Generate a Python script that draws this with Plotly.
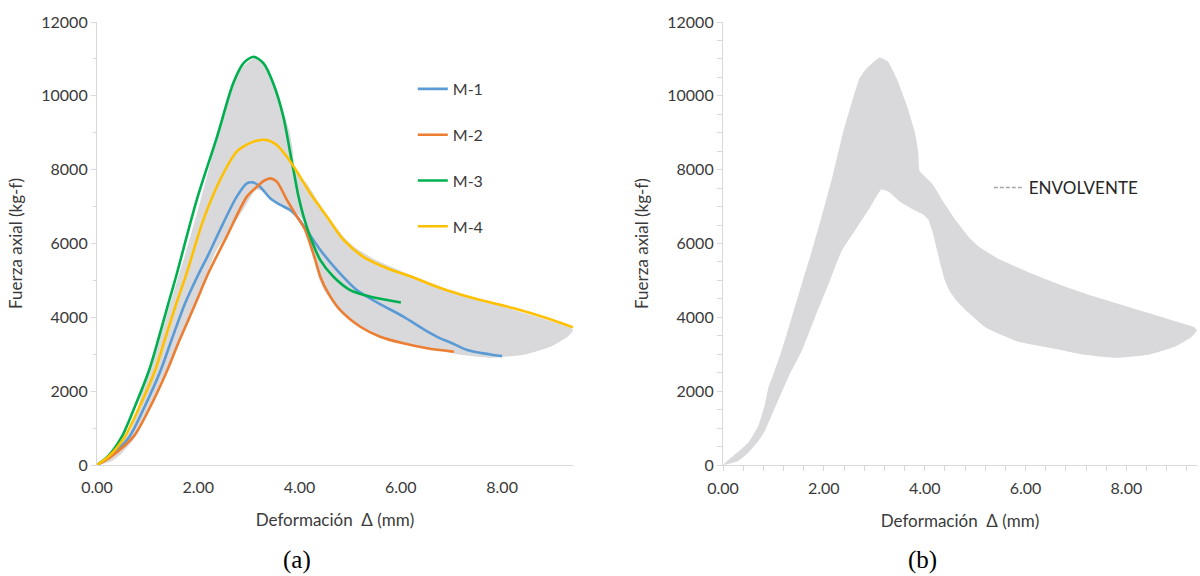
import plotly.graph_objects as go

# ---------------- data ----------------
m1_x = [0, 0.25, 0.64, 0.91, 1.26, 1.47, 1.74, 1.98, 2.2, 2.43, 2.76, 2.96, 3.09, 3.22, 3.42, 3.62, 3.81, 3.95, 4.14, 4.41, 4.74, 5.13, 5.59, 6.05, 6.52, 6.78, 6.98, 7.31, 7.6, 7.83, 8.0]
m1_y = [0, 230, 767, 1490, 2573, 3380, 4380, 5100, 5700, 6370, 7270, 7630, 7650, 7540, 7225, 7045, 6910, 6730, 6365, 5825, 5280, 4740, 4360, 4020, 3620, 3430, 3320, 3115, 3030, 2980, 2950]

m2_x = [0, 0.25, 0.72, 1.02, 1.39, 1.62, 1.96, 2.2, 2.56, 2.96, 3.16, 3.3, 3.42, 3.55, 3.75, 3.95, 4.1, 4.3, 4.41, 4.57, 4.8, 5.2, 5.59, 6.05, 6.52, 7.05]
m2_y = [0, 200, 767, 1490, 2573, 3350, 4420, 5200, 6185, 7270, 7540, 7700, 7765, 7675, 7180, 6725, 6400, 5600, 5100, 4650, 4200, 3745, 3475, 3295, 3160, 3070]

m3_x = [0, 0.22, 0.49, 0.72, 1.03, 1.21, 1.41, 1.56, 1.97, 2.37, 2.69, 2.89, 3.09, 3.29, 3.48, 3.68, 3.81, 3.88, 3.98, 4.08, 4.21, 4.41, 4.67, 5.0, 5.4, 5.73, 6.0]
m3_y = [0, 240, 767, 1490, 2573, 3400, 4380, 5100, 7180, 8890, 10340, 10880, 11060, 10880, 10340, 9435, 8500, 7990, 7270, 6730, 6185, 5550, 5100, 4740, 4560, 4470, 4400]

m4_x = [0, 0.23, 0.55, 0.81, 1.15, 1.34, 1.56, 1.76, 2.1, 2.43, 2.76, 3.09, 3.35, 3.55, 3.75, 3.95, 4.21, 4.54, 4.87, 5.26, 5.73, 6.25, 6.71, 7.1, 7.57, 8.23, 8.89, 9.4]
m4_y = [0, 230, 767, 1490, 2573, 3400, 4350, 5150, 6640, 7720, 8490, 8760, 8805, 8670, 8350, 7945, 7360, 6730, 6095, 5640, 5330, 5080, 4830, 4650, 4470, 4245, 3975, 3730]

env_up_x = [0, 0.24, 0.5, 0.7, 0.83, 0.9, 1.0, 1.16, 1.36, 1.56, 1.76, 1.96, 2.18, 2.38, 2.58, 2.71, 2.85, 3.11, 3.27, 3.44, 3.64, 3.8, 3.87, 3.9, 4.0, 4.16, 4.36, 4.63, 4.89, 5.09, 5.49, 6.01, 6.67, 7.33, 7.99, 8.65, 9.18, 9.36]
env_up_y = [0, 290, 605, 1055, 1640, 2090, 2455, 3085, 3985, 4890, 5790, 6750, 7865, 9000, 9940, 10480, 10750, 11040, 10930, 10480, 9760, 9040, 8500, 7955, 7820, 7595, 7145, 6600, 6150, 5900, 5565, 5250, 4890, 4575, 4300, 4030, 3805, 3720]

env_lo_x = [0, 0.3, 0.5, 0.7, 0.83, 1.03, 1.29, 1.56, 1.82, 2.09, 2.35, 2.65, 2.91, 3.14, 3.27, 3.5, 3.77, 3.97, 4.07, 4.16, 4.3, 4.4, 4.5, 4.65, 4.83, 5.22, 5.82, 6.48, 7.13, 7.8, 8.46, 8.98, 9.31, 9.4]
env_lo_y = [0, 108, 333, 650, 920, 1550, 2360, 3085, 3985, 4890, 5790, 6420, 6960, 7460, 7415, 7145, 6920, 6785, 6650, 6300, 5500, 5000, 4700, 4420, 4170, 3715, 3355, 3175, 2995, 2905, 2995, 3220, 3490, 3640]

y_ticks = [0, 2000, 4000, 6000, 8000, 10000, 12000]
y_tick_text = ["0", "2000", "4000", "6000", "8000", "10000", "12000"]
x_ticks = [0, 2, 4, 6, 8]
x_tick_text = ["0.00", "2.00", "4.00", "6.00", "8.00"]

series = [
    ("M-1", m1_x, m1_y, "#5B9BD5"),
    ("M-2", m2_x, m2_y, "#ED7D31"),
    ("M-3", m3_x, m3_y, "#00B050"),
    ("M-4", m4_x, m4_y, "#FFC000"),
]

FILL = "#d9d8da"
FONT = "Lato"
TXT = "#3a3a3a"

poly_x = env_up_x + env_lo_x[::-1]
poly_y = env_up_y + env_lo_y[::-1]

fig = go.Figure()

# left panel envelope fill
fig.add_trace(go.Scatter(x=poly_x, y=poly_y, fill="toself", fillcolor=FILL,
                         line=dict(width=0, shape="spline", smoothing=0.4),
                         mode="lines", showlegend=False, hoverinfo="skip",
                         xaxis="x", yaxis="y"))
for name, xs, ys, col in series:
    fig.add_trace(go.Scatter(x=xs, y=ys, name=name, mode="lines",
                             line=dict(color=col, width=2.6, shape="spline", smoothing=0.8),
                             legendgroup=name, xaxis="x", yaxis="y", legend="legend"))

# right panel envelope
fig.add_trace(go.Scatter(x=poly_x, y=poly_y, fill="toself", fillcolor=FILL,
                         line=dict(width=0, shape="spline", smoothing=0.4),
                         mode="lines", showlegend=False, hoverinfo="skip",
                         xaxis="x2", yaxis="y2"))
fig.add_trace(go.Scatter(x=[None], y=[None], name="ENVOLVENTE", mode="lines",
                         line=dict(color="#a6a6a6", width=1.5, dash="4px,2px"),
                         xaxis="x2", yaxis="y2", legend="legend2"))

ydom = [(576 - 465) / 576, (576 - 22) / 576]
axis_common = dict(showgrid=False, zeroline=False, showline=True, automargin=False,
                   linecolor="#d9d9d9", linewidth=1.2,
                   tickfont=dict(family=FONT, size=16, color=TXT))
xtitle = dict(text="Deformación  Δ (mm)", font=dict(family=FONT, size=17, color=TXT), standoff=18)
ytitle = dict(text="Fuerza axial (kg-f)", font=dict(family=FONT, size=17, color=TXT), standoff=14)

fig.update_layout(
    width=1200, height=576,
    margin=dict(l=0, r=0, t=0, b=0),
    paper_bgcolor="white", plot_bgcolor="white",
    font=dict(family=FONT, color=TXT),
    xaxis=dict(domain=[97 / 1200, 573 / 1200], range=[0, 9.4], tickvals=x_ticks, ticktext=x_tick_text,
               ticks="", anchor="y", ticklabelstandoff=8, title=xtitle, **axis_common),
    yaxis=dict(domain=ydom, range=[0, 12000], tickvals=y_ticks, ticktext=y_tick_text, anchor="x",
               ticks="outside", ticklen=5, tickcolor="#d9d9d9",
               minor=dict(dtick=1000, ticks="outside", ticklen=3, tickcolor="#d9d9d9"),
               title=ytitle, **axis_common),
    xaxis2=dict(domain=[723 / 1200, 1197 / 1200], range=[0, 9.4], tickvals=x_ticks, ticktext=x_tick_text,
                anchor="y2", ticks="outside", ticklen=5, tickcolor="#d9d9d9", ticklabelstandoff=4,
                minor=dict(dtick=0.4, ticks="outside", ticklen=5, tickcolor="#d9d9d9"),
                title=xtitle, **axis_common),
    yaxis2=dict(domain=ydom, range=[0, 12000], tickvals=y_ticks, ticktext=y_tick_text, anchor="x2",
                ticks="outside", ticklen=5, tickcolor="#d9d9d9",
                minor=dict(dtick=500, ticks="outside", ticklen=5, tickcolor="#d9d9d9"),
                title=ytitle, **axis_common),
    legend=dict(x=0.344, y=0.875, xanchor="left", yanchor="top", bgcolor="rgba(0,0,0,0)",
                font=dict(family=FONT, size=16, color=TXT), traceorder="grouped",
                tracegroupgap=22, itemwidth=30),
    legend2=dict(x=0.824, y=0.705, xanchor="left", yanchor="top", bgcolor="rgba(0,0,0,0)",
                 font=dict(family=FONT, size=17, color="#262626"), itemwidth=30),
    annotations=[
        dict(text="(a)", x=297 / 1200, y=(576 - 560) / 576, xref="paper", yref="paper",
             showarrow=False, xanchor="center", yanchor="middle",
             font=dict(family="Liberation Serif", size=25, color="black")),
        dict(text="(b)", x=922 / 1200, y=(576 - 560) / 576, xref="paper", yref="paper",
             showarrow=False, xanchor="center", yanchor="middle",
             font=dict(family="Liberation Serif", size=25, color="black")),
    ],
)

fig.write_html("out.html", config={"displayModeBar": False},
               post_script="document.body.style.margin='0';")
